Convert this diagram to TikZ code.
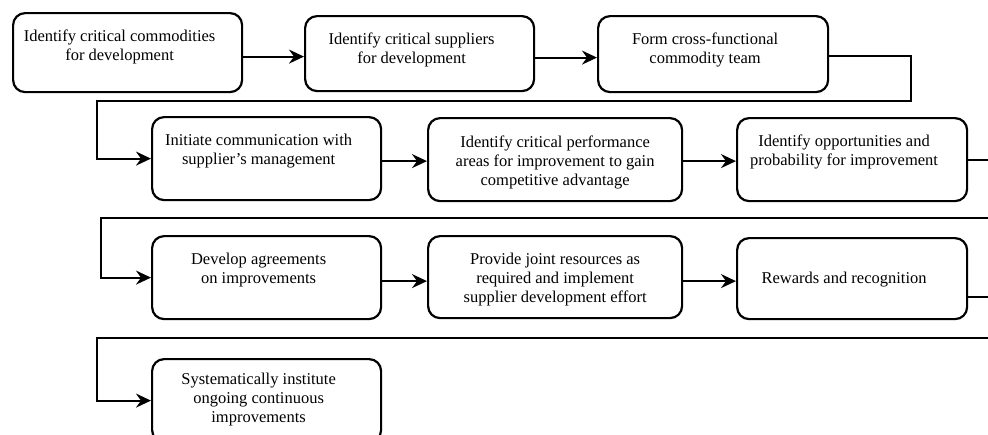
\documentclass[tikz,border=0pt]{standalone}
\usepackage{fontspec}
\setmainfont{Liberation Serif}
\usetikzlibrary{arrows.meta,calc}

\begin{document}
\begin{tikzpicture}[x=1pt,y=-1pt,
  stepbox/.style={draw=black, line width=2.2pt, rounded corners=12pt,
    anchor=north west, inner sep=0pt},
  txt/.style={align=center, inner sep=0pt,
    font=\fontsize{16.5}{19}\selectfont},
  link/.style={line width=2pt, draw=black},
  arr/.style={link, -{Stealth[length=15pt, width=14pt, inset=5pt]}}]

\useasboundingbox (0,0) rectangle (988,434);
\clip (0,0) rectangle (988,434);

% ---- step boxes ----
\node[stepbox, minimum width=229pt, minimum height=79pt] (b1) at (12,12) {};
\node[stepbox, minimum width=229pt, minimum height=75pt] (b2) at (304,15) {};
\node[stepbox, minimum width=230pt, minimum height=76pt] (b3) at (597,15) {};

\node[stepbox, minimum width=229pt, minimum height=83pt] (b4) at (151,116) {};
\node[stepbox, minimum width=254pt, minimum height=83pt] (b5) at (427,117) {};
\node[stepbox, minimum width=230pt, minimum height=83pt] (b6) at (736,117) {};

\node[stepbox, minimum width=229pt, minimum height=83pt] (b7) at (151,235) {};
\node[stepbox, minimum width=254pt, minimum height=82pt] (b8) at (427,235) {};
\node[stepbox, minimum width=230pt, minimum height=81pt] (b9) at (736,237) {};

\node[stepbox, minimum width=229pt, minimum height=83pt] (b10) at (151,358) {};

% ---- step texts ----
\node[txt] (t1) at ($(b1.north)+(-8,35)$) {Identify critical commodities\\for development};
\node[txt] (t2) at ($(b2.north)+(-8,35)$) {Identify critical suppliers\\for development};
\node[txt] (t3) at ($(b3.north)+(-8,35)$) {Form cross-functional\\commodity team};
\node[txt] (t4) at ($(b4.north)+(-8,35)$) {Initiate communication with\\supplier’s management};
\node[txt] (t5) at ($(b5.north)+(0,45)$) {Identify critical performance\\areas for improvement to gain\\competitive advantage};
\node[txt] (t6) at ($(b6.north)+(-8,35)$) {Identify opportunities and\\probability for improvement};
\node[txt] (t7) at ($(b7.north)+(-8,35)$) {Develop agreements\\on improvements};
\node[txt] (t8) at ($(b8.north)+(0,45)$) {Provide joint resources as\\required and implement\\supplier development effort};
\node[txt] (t9) at ($(b9.north)+(-8,43)$) {Rewards and recognition};
\node[txt] (t10) at ($(b10.north)+(-8,42)$) {Systematically institute\\ongoing continuous\\improvements};

% ---- connectors within rows ----
\coordinate (a1) at ($(b1.east)+(0,4)$);
\coordinate (a2) at ($(b2.east)+(0,4)$);
\coordinate (a4) at ($(b4.east)+(0,2.5)$);
\coordinate (a5) at ($(b5.east)+(0,1.5)$);
\coordinate (a7) at ($(b7.east)+(0,3.5)$);
\coordinate (a8) at ($(b8.east)+(0,4)$);
\draw[arr] (a1) -- (a1 -| b2.west);
\draw[arr] (a2) -- (a2 -| b3.west);
\draw[arr] (a4) -- (a4 -| b5.west);
\draw[arr] (a5) -- (a5 -| b6.west);
\draw[arr] (a7) -- (a7 -| b8.west);
\draw[arr] (a8) -- (a8 -| b9.west);

% ---- row to row returns ----
\coordinate (a3) at ($(b3.east)+(0,2)$);
\coordinate (r1) at (911,101);
\coordinate (l1) at (97,101);
\draw[arr] (a3) -| (r1) -- (l1) |- (b4.west);

\coordinate (e2) at (1000,160);
\coordinate (r2) at (1000,218);
\coordinate (l2) at (101,218);
\draw[link] (b6.east |- e2) -- (e2);
\draw[arr] (r2) -- (l2) |- (b7.west);

\coordinate (e3) at (1000,297);
\coordinate (r3) at (1000,338);
\coordinate (l3) at (97,338);
\draw[link] (b9.east |- e3) -- (e3);
\draw[arr] (r3) -- (l3) |- (b10.west);

\end{tikzpicture}
\end{document}
